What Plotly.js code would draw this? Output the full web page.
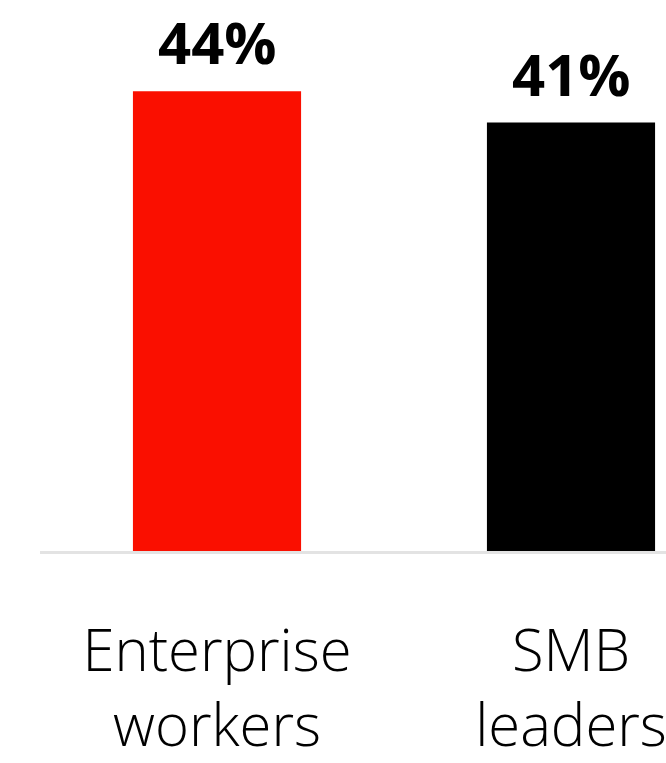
<!DOCTYPE html>
<html>
<head>
<meta charset="utf-8">
<script src="https://cdn.plot.ly/plotly-3.0.1.min.js"></script>
<style>
html, body { margin: 0; padding: 0; overflow: hidden; background: #fff; width: 666px; height: 763px; }
#chart { width: 800px; height: 763px; }
</style>
</head>
<body>
<div id="chart"></div>
<script>
const categories = ["Enterprise<br>workers", "SMB<br>leaders"];
const values = [44, 41];
const valueLabels = ["44%", "41%"];
const barColors = ["#fa0f00", "#000000"];

const trace = {
  type: "bar",
  x: categories,
  y: values,
  marker: { color: barColors, line: { width: 0 } },
  width: 0.475,
  hoverinfo: "skip"
};

const annotations = categories.map((c, i) => ({
  x: c,
  y: values[i],
  xref: "x",
  yref: "y",
  text: valueLabels[i],
  showarrow: false,
  yanchor: "bottom",
  yshift: 8,
  font: { family: "Open Sans, sans-serif", size: 58, weight: 700, color: "#000" }
}));

const layout = {
  width: 800,
  height: 763,
  margin: { l: 40, r: 52, t: 0, b: 212, pad: 0 },
  paper_bgcolor: "#fff",
  plot_bgcolor: "#fff",
  showlegend: false,
  annotations: annotations,
  xaxis: {
    type: "category",
    range: [-0.5, 1.5],
    showline: true,
    linecolor: "#e3e3e3",
    linewidth: 3,
    ticks: "",
    showgrid: false,
    zeroline: false,
    ticklabelstandoff: 47,
    tickfont: { family: "Open Sans, sans-serif", size: 58, weight: 300, color: "#000" },
    fixedrange: true
  },
  yaxis: {
    range: [0, 52.73],
    visible: false,
    showgrid: false,
    zeroline: false,
    fixedrange: true
  }
};

Plotly.newPlot("chart", [trace], layout, { displayModeBar: false, staticPlot: true });
</script>
</body>
</html>
